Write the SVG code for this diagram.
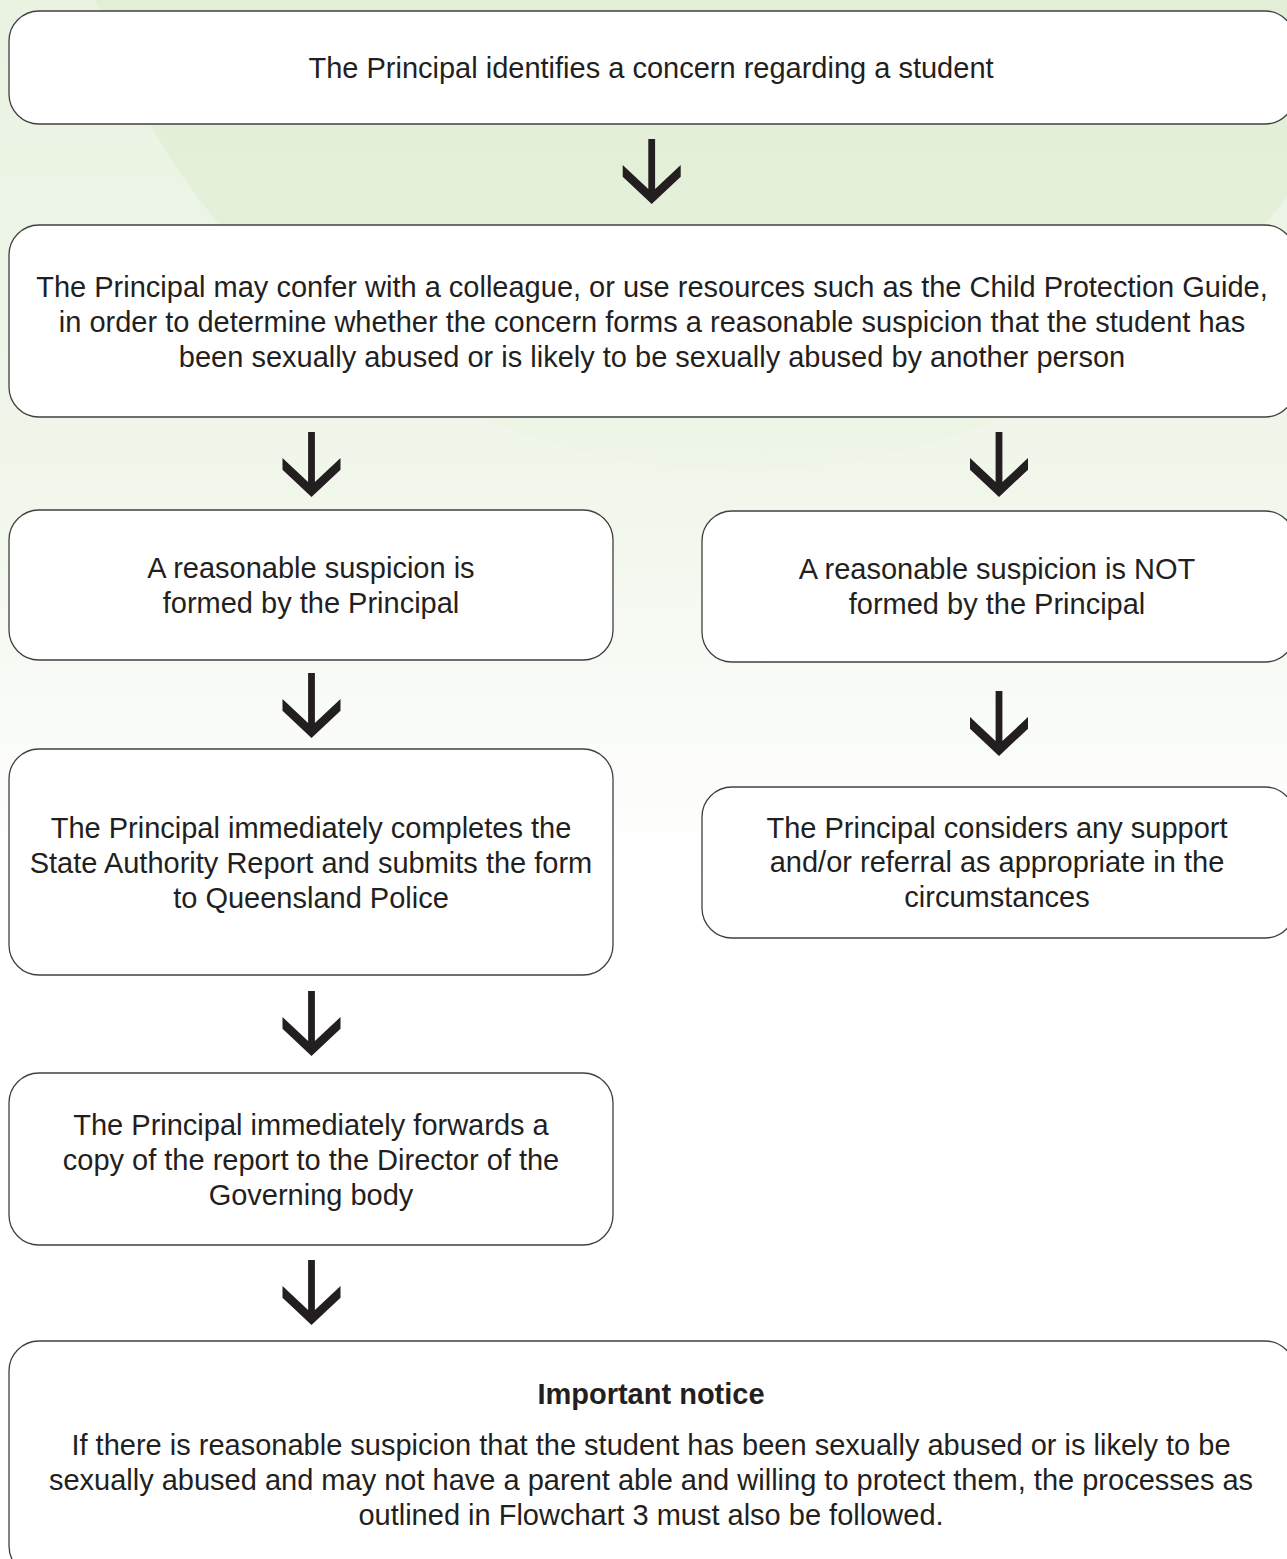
<svg xmlns="http://www.w3.org/2000/svg" width="1287" height="1559" viewBox="0 0 1287 1559">
  <defs>
    <linearGradient id="bgGrad" x1="0" y1="0" x2="0" y2="1559" gradientUnits="userSpaceOnUse">
      <stop offset="0" stop-color="#eaf3e2"/>
      <stop offset="0.3" stop-color="#f0f6ea"/>
      <stop offset="0.56" stop-color="#ffffff"/>
      <stop offset="1" stop-color="#ffffff"/>
    </linearGradient>
    <linearGradient id="arcGrad" x1="0" y1="0" x2="0" y2="470" gradientUnits="userSpaceOnUse">
      <stop offset="0" stop-color="#e2eed5"/>
      <stop offset="0.5" stop-color="#e5f0da"/>
      <stop offset="1" stop-color="#eff6e9"/>
    </linearGradient>
    <path id="arrow" d="M-3.4,-65 L3.4,-65 L3.4,-14.9 L29,-39 L29,-27.3 L0,0 L-29,-27.3 L-29,-39 L-3.4,-14.9 Z"/>
  </defs>
  <style>
    .box { fill: #ffffff; stroke: #404040; stroke-width: 1.3; }
    .t { font-family: "Liberation Sans", Arial, sans-serif; font-size: 29px; fill: #231f20; text-anchor: middle; }
    .b { font-weight: bold; }
    .arr { fill: #231f20; }
  </style>

  <rect x="0" y="0" width="1287" height="1559" fill="url(#bgGrad)"/>
  <circle cx="742" cy="-210" r="680" fill="url(#arcGrad)"/>

  <g id="connectors">
    <use href="#arrow" class="arr" transform="translate(651.7,204)"/>
    <use href="#arrow" class="arr" transform="translate(311.5,497)"/>
    <use href="#arrow" class="arr" transform="translate(999,497)"/>
    <use href="#arrow" class="arr" transform="translate(311.5,738)"/>
    <use href="#arrow" class="arr" transform="translate(999,756)"/>
    <use href="#arrow" class="arr" transform="translate(311.5,1056)"/>
    <use href="#arrow" class="arr" transform="translate(311.5,1325)"/>
  </g>

  <g id="node-identify">
    <rect class="box" x="9" y="11" width="1286" height="113" rx="30" ry="30"/>
    <text class="t" x="651" y="78">The Principal identifies a concern regarding a student</text>
  </g>

  <g id="node-confer">
    <rect class="box" x="9" y="225" width="1286" height="192" rx="30" ry="30"/>
    <text class="t" x="652" y="297">The Principal may confer with a colleague, or use resources such as the Child Protection Guide,</text>
    <text class="t" x="652" y="332">in order to determine whether the concern forms a reasonable suspicion that the student has</text>
    <text class="t" x="652" y="367">been sexually abused or is likely to be sexually abused by another person</text>
  </g>

  <g id="node-formed">
    <rect class="box" x="9" y="510" width="604" height="150" rx="30" ry="30"/>
    <text class="t" x="311" y="578">A reasonable suspicion is</text>
    <text class="t" x="311" y="613">formed by the Principal</text>
  </g>

  <g id="node-not-formed">
    <rect class="box" x="702" y="511" width="593" height="151" rx="30" ry="30"/>
    <text class="t" x="997" y="579">A reasonable suspicion is NOT</text>
    <text class="t" x="997" y="614">formed by the Principal</text>
  </g>

  <g id="node-report">
    <rect class="box" x="9" y="749" width="604" height="226" rx="30" ry="30"/>
    <text class="t" x="311" y="838">The Principal immediately completes the</text>
    <text class="t" x="311" y="873">State Authority Report and submits the form</text>
    <text class="t" x="311" y="908">to Queensland Police</text>
  </g>

  <g id="node-support">
    <rect class="box" x="702" y="787" width="593" height="151" rx="30" ry="30"/>
    <text class="t" x="997" y="838">The Principal considers any support</text>
    <text class="t" x="997" y="872">and/or referral as appropriate in the</text>
    <text class="t" x="997" y="907">circumstances</text>
  </g>

  <g id="node-forward">
    <rect class="box" x="9" y="1073" width="604" height="172" rx="30" ry="30"/>
    <text class="t" x="311" y="1135">The Principal immediately forwards a</text>
    <text class="t" x="311" y="1170">copy of the report to the Director of the</text>
    <text class="t" x="311" y="1205">Governing body</text>
  </g>

  <g id="node-notice">
    <rect class="box" x="9" y="1341" width="1286" height="235" rx="30" ry="30"/>
    <text class="t b" x="651" y="1404">Important notice</text>
    <text class="t" x="651" y="1455">If there is reasonable suspicion that the student has been sexually abused or is likely to be</text>
    <text class="t" x="651" y="1490">sexually abused and may not have a parent able and willing to protect them, the processes as</text>
    <text class="t" x="651" y="1525">outlined in Flowchart 3 must also be followed.</text>
  </g>
</svg>
